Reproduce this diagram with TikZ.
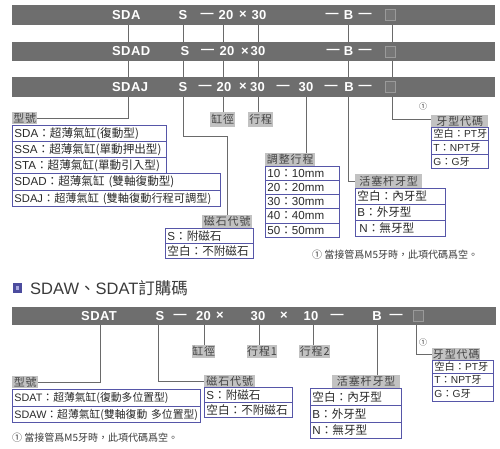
\documentclass[tikz,border=0pt]{standalone}
\usepackage{fontspec}
\setmainfont{Liberation Sans}
\newfontfamily\cjk{Noto Sans CJK TC}
\newfontfamily\cjkl[LetterSpace=8]{Noto Sans CJK TC}
\newfontfamily\barfont[LetterSpace=3]{Liberation Sans Bold}
\definecolor{barc}{HTML}{6E6E6E}
\definecolor{sqc}{HTML}{9A9A9A}
\definecolor{sqfill}{HTML}{767676}
\definecolor{linec}{HTML}{6A6A6A}
\definecolor{lblc}{HTML}{C2C2C2}
\definecolor{lbltext}{HTML}{444444}
\definecolor{tabc}{HTML}{5656A8}
\definecolor{rowtext}{HTML}{2A2A2A}
\definecolor{notec}{HTML}{3A3A3A}
\definecolor{iconc}{HTML}{4C4C9E}
\definecolor{iconin}{HTML}{A8A8E0}
\tikzset{
  barst/.style={fill=barc, inner sep=0pt, anchor=north west},
  tok/.style={text=white, font=\barfont\fontsize{13}{13}\selectfont, inner sep=0pt},
  sqst/.style={draw=sqc, fill=sqfill, line width=0.8pt, minimum width=10pt, minimum height=11pt, inner sep=0pt},
  conn/.style={draw=linec, line width=0.9pt},
  lbl/.style={fill=lblc, inner sep=0pt, text=lbltext, font=\cjkl\fontsize{11}{11}\selectfont},
  rowst/.style={draw=tabc, line width=0.9pt, inner ysep=0pt, inner xsep=2pt, align=left, font=\fontsize{11.6}{12}\selectfont, text=rowtext},
  note/.style={font=\cjk\fontsize{10}{10}\selectfont, text=notec, inner sep=0pt, anchor=west},
  circ/.style={font=\cjk\fontsize{8}{8}\selectfont, text=notec, inner sep=0pt},
}
\newcommand\lblbox[6]{%
  \pgfmathsetmacro\qw{#4-#2}\pgfmathsetmacro\qh{#5-#3}%
  \node[lbl, minimum width=\qw pt, minimum height=\qh pt, anchor=north west] (#1) at (#2,#3) {#6};}
\newcommand\rowbox[6]{%
  \pgfmathsetmacro\qw{#4-#2-4}\pgfmathsetmacro\qh{#5-#3}%
  \node[rowst, text width=\qw pt, minimum height=\qh pt, anchor=north west] (#1) at (#2,#3) {\mbox{#6}};}
\newcommand\tsmall{\fontsize{10.2}{12}\selectfont}
\newcommand\tmid{\fontsize{10.8}{12}\selectfont}
\begin{document}
\begin{tikzpicture}[x=1pt,y=-1pt]
\useasboundingbox (0,0) rectangle (500,448);
% ---------- top bars ----------
\node[barst, minimum width=483pt, minimum height=20pt] (bar1) at (12,5) {};
\node[barst, minimum width=483pt, minimum height=19pt] (bar2) at (12,42) {};
\node[barst, minimum width=483pt, minimum height=20pt] (bar3) at (12,77) {};
% bar1 tokens
\node[tok, anchor=west] (a1) at (112,15) {SDA};
\node[tok] (a2) at (183,15) {S};
\node[tok] (a3) at (207,15) {—};
\node[tok] (a4) at (226,15) {20};
\node[tok] (a5) at (243,15) {×};
\node[tok] (a6) at (259,15) {30};
\node[tok] (a7) at (332,15) {—};
\node[tok] (a8) at (348.5,15) {B};
\node[tok] (a9) at (365,15) {—};
\node[sqst] (aq) at (390.5,15) {};
% bar2 tokens
\node[tok, anchor=west] (b1) at (112,51.5) {SDAD};
\node[tok] (b2) at (185,51.5) {S};
\node[tok] (b3) at (207.5,51.5) {—};
\node[tok] (b4) at (227,51.5) {20};
\node[tok] (b5) at (245,51.5) {×};
\node[tok] (b6) at (258,51.5) {30};
\node[tok] (b7) at (333,51.5) {—};
\node[tok] (b8) at (348.5,51.5) {B};
\node[tok] (b9) at (365,51.5) {—};
\node[sqst] (bq) at (390.5,51.5) {};
% bar3 tokens
\node[tok, anchor=west] (c1) at (112,87) {SDAJ};
\node[tok] (c2) at (183,87) {S};
\node[tok] (c3) at (205,87) {—};
\node[tok] (c4) at (224,87) {20};
\node[tok] (c5) at (243,87) {×};
\node[tok] (c6) at (257.5,87) {30};
\node[tok] (c7) at (283,87) {—};
\node[tok] (c8) at (306,87) {30};
\node[tok] (c9) at (331,87) {—};
\node[tok] (c10) at (349,87) {B};
\node[tok] (c11) at (365,87) {—};
\node[sqst] (cq) at (390.5,87) {};
% connector x positions
\coordinate (kA) at (128,0);
\coordinate (kB) at (183,0);
\coordinate (kC) at (223,0);
\coordinate (kD) at (258,0);
\coordinate (kE) at (306,0);
\coordinate (kF) at (348,0);
\coordinate (kG) at (392,0);
\coordinate (jB) at (0,136);
\foreach \k in {kA,kB,kC,kD,kF,kG}{
  \draw[conn] (\k |- bar1.south) -- (\k |- bar2.north);
  \draw[conn] (\k |- bar2.south) -- (\k |- bar3.north);
}
% ---------- top labels and tables ----------
\lblbox{L1}{12}{112}{37}{124}{型號}
\rowbox{r1}{12}{125}{166}{141}{SDA{\cjk ：超薄氣缸(復動型)}}
\rowbox{r2}{12}{141}{166}{157}{SSA{\cjk ：超薄氣缸(單動押出型)}}
\rowbox{r3}{12}{157}{166}{173}{STA{\cjk ：超薄氣缸(單動引入型)}}
\rowbox{r4}{12}{173}{220}{190}{SDAD{\cjk ：超薄氣缸 (雙軸復動型)}}
\rowbox{r5}{12}{190}{220}{206}{\fontsize{11.2}{12}\selectfont SDAJ{\cjk ：超薄氣缸 (雙軸復動行程可調型)}}

\lblbox{Lbore}{210}{112}{235}{127}{缸徑}
\lblbox{Lstroke}{248}{112}{273}{127}{行程}

\lblbox{Lmag}{202}{215}{252}{228}{磁石代號}
\rowbox{m1}{165}{228}{253}{243}{S{\cjk ：附磁石}}
\rowbox{m2}{165}{243}{253}{258}{{\cjk 空白：不附磁石}}

\lblbox{Ladj}{265}{153}{315}{166}{調整行程}
\rowbox{d1}{265}{166}{339}{180}{10{\cjk ：}10mm}
\rowbox{d2}{265}{180}{339}{194}{20{\cjk ：}20mm}
\rowbox{d3}{265}{194}{339}{208}{30{\cjk ：}30mm}
\rowbox{d4}{265}{208}{339}{223}{40{\cjk ：}40mm}
\rowbox{d5}{265}{223}{339}{237}{50{\cjk ：}50mm}

\lblbox{Lrod}{355}{174}{422}{188}{活塞杆牙型}
\rowbox{p1}{355}{188}{445}{204}{{\cjk 空白：內牙型}}
\rowbox{p2}{355}{204}{445}{220}{B{\cjk ：外牙型}}
\rowbox{p3}{355}{220}{445}{236}{\hspace{2pt}N{\cjk ：無牙型}}

\lblbox{Lthr}{431}{115}{488}{127}{牙型代碼}
\rowbox{q1}{431}{127}{488}{140}{\tsmall{\cjk 空白：}PT{\cjk 牙}}
\rowbox{q2}{431}{140}{488}{154}{\tsmall T{\cjk ：}NPT{\cjk 牙}}
\rowbox{q3}{431}{154}{488}{168}{\tsmall G{\cjk ：}G{\cjk 牙}}
\node[circ] (n1) at (423,106) {①};

% connectors from bar3
\draw[conn] (kA |- bar3.south) |- (L1.east);
\draw[conn] (kB |- bar3.south) -- (kB |- jB) -| (Lmag.north);
\draw[conn] (kC |- bar3.south) -- (kC |- Lbore.north);
\draw[conn] (kD |- bar3.south) -- (kD |- Lstroke.north);
\draw[conn] (kE |- bar3.south) -- (kE |- Ladj.north);
\draw[conn] (kF |- bar3.south) |- (Lrod.west);
\draw[conn] (kG |- bar3.south) |- ([yshift=2pt]Lthr.west);

\node[note] (f1) at (312,255) {① 當接管爲M5牙時，此項代碼爲空。};

% ---------- heading ----------
\node[fill=iconc, minimum width=9.5pt, minimum height=9.5pt, inner sep=0pt] (icon) at (17.5,288) {};
\node[fill=iconin, minimum width=3.5pt, minimum height=3.5pt, inner sep=0pt] (iconi) at (icon.center) {};
\node[anchor=west, inner sep=0pt, text=notec, font=\fontsize{16.5}{18}\selectfont] (head) at (30,288) {SDAW{\cjk 、}SDAT{\cjk 訂購碼}};

% ---------- bottom bar ----------
\node[barst, minimum width=484pt, minimum height=18pt] (bar4) at (12,307) {};
\node[tok] (e1) at (99,316) {SDAT};
\node[tok] (e2) at (160,316) {S};
\node[tok] (e3) at (180,316) {—};
\node[tok] (e4) at (203.5,316) {20};
\node[tok] (e5) at (220,316) {×};
\node[tok] (e6) at (258,316) {30};
\node[tok] (e7) at (284,316) {×};
\node[tok] (e8) at (311,316) {10};
\node[tok] (e9) at (337,316) {—};
\node[tok] (e10) at (377,316) {B};
\node[tok] (e11) at (396,316) {—};
\node[sqst] (eq) at (418.5,316) {};

\coordinate (hA) at (100,0);
\coordinate (hB) at (158,0);
\coordinate (hC) at (204,0);
\coordinate (hD) at (259,0);
\coordinate (hE) at (313,0);
\coordinate (hF) at (377,0);
\coordinate (hG) at (416,0);

\lblbox{M1}{12}{376}{38}{388}{型號}
\rowbox{s1}{12}{389}{200}{406}{\tmid SDAT{\cjk ：超薄氣缸(復動多位置型)}}
\rowbox{s2}{12}{406}{200}{422}{\tmid SDAW{\cjk ：超薄氣缸(雙軸復動 多位置型)}}

\lblbox{Mmag}{204}{375}{255}{387}{磁石代號}
\rowbox{g1}{204}{387}{292}{402}{S{\cjk ：附磁石}}
\rowbox{g2}{204}{402}{292}{417}{{\cjk 空白：不附磁石}}

\lblbox{Mbore}{192}{345}{215}{358}{缸徑}
\lblbox{Mst1}{247}{345}{275}{358}{行程1}
\lblbox{Mst2}{299}{345}{330}{358}{行程2}

\lblbox{Mrod}{332}{375}{400}{388}{活塞杆牙型}
\rowbox{u1}{310}{388}{401}{405}{{\cjk 空白：內牙型}}
\rowbox{u2}{310}{405}{401}{422}{B{\cjk ：外牙型}}
\rowbox{u3}{310}{422}{401}{438}{N{\cjk ：無牙型}}

\lblbox{Mthr}{432}{348}{480}{360}{牙型代碼}
\rowbox{v1}{432}{360}{493}{373}{\tsmall{\cjk 空白：}PT{\cjk 牙}}
\rowbox{v2}{432}{373}{493}{386}{\tsmall T{\cjk ：}NPT{\cjk 牙}}
\rowbox{v3}{432}{386}{493}{401}{\tsmall G{\cjk ：}G{\cjk 牙}}
\node[circ] (n2) at (423,342) {①};

\draw[conn] (hA |- bar4.south) |- (M1.east);
\draw[conn] (hB |- bar4.south) |- (Mmag.west);
\draw[conn] (hC |- bar4.south) -- (hC |- Mbore.north);
\draw[conn] (hD |- bar4.south) -- (hD |- Mst1.north);
\draw[conn] (hE |- bar4.south) -- (hE |- Mst2.north);
\draw[conn] (hF |- bar4.south) -- (hF |- Mrod.north);
\draw[conn] (hG |- bar4.south) |- (Mthr.west);

\node[note] (f2) at (12,438) {① 當接管爲M5牙時，此項代碼爲空。};
\end{tikzpicture}
\end{document}
